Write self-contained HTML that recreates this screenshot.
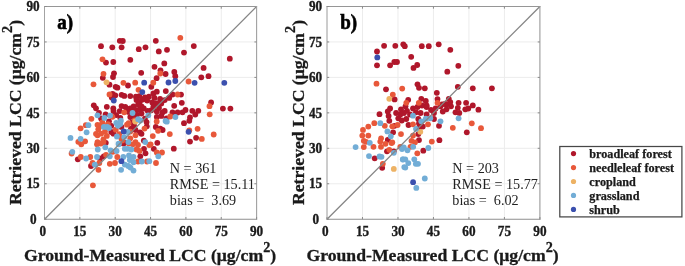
<!DOCTYPE html>
<html><head><meta charset="utf-8"><style>html,body{margin:0;padding:0;background:#fff;width:685px;height:266px;overflow:hidden}svg{display:block;will-change:transform}</style></head>
<body>
<svg width="685" height="266" viewBox="0 0 685 266">
<style>
text{font-family:"Liberation Serif",serif;fill:#1a1a1a}
.tk{font-size:13.2px;font-weight:bold;stroke:#1a1a1a;stroke-width:0.35px}
.pl{font-size:19px;font-weight:bold;fill:#000;stroke:#000;stroke-width:0.6px}
.st{font-size:14.2px;fill:#222}
.al{font-size:17.7px;font-weight:bold;stroke:#1a1a1a;stroke-width:0.3px}
.lg{font-size:12.2px;font-weight:bold;stroke:#1a1a1a;stroke-width:0.25px}
</style>
<rect width="685" height="266" fill="#fff"/>
<line x1="79.85" y1="6.5" x2="79.85" y2="219.2" stroke="#ECECEC" stroke-width="1"/>
<line x1="44.5" y1="183.75" x2="256.6" y2="183.75" stroke="#ECECEC" stroke-width="1"/>
<line x1="115.20" y1="6.5" x2="115.20" y2="219.2" stroke="#ECECEC" stroke-width="1"/>
<line x1="44.5" y1="148.30" x2="256.6" y2="148.30" stroke="#ECECEC" stroke-width="1"/>
<line x1="150.55" y1="6.5" x2="150.55" y2="219.2" stroke="#ECECEC" stroke-width="1"/>
<line x1="44.5" y1="112.85" x2="256.6" y2="112.85" stroke="#ECECEC" stroke-width="1"/>
<line x1="185.90" y1="6.5" x2="185.90" y2="219.2" stroke="#ECECEC" stroke-width="1"/>
<line x1="44.5" y1="77.40" x2="256.6" y2="77.40" stroke="#ECECEC" stroke-width="1"/>
<line x1="221.25" y1="6.5" x2="221.25" y2="219.2" stroke="#ECECEC" stroke-width="1"/>
<line x1="44.5" y1="41.95" x2="256.6" y2="41.95" stroke="#ECECEC" stroke-width="1"/>
<circle cx="101.0" cy="46.2" r="2.9" fill="#B0172B"/>
<circle cx="112.3" cy="47.3" r="2.9" fill="#B0172B"/>
<circle cx="119.8" cy="40.8" r="2.9" fill="#B0172B"/>
<circle cx="122.8" cy="41.0" r="2.9" fill="#B0172B"/>
<circle cx="121.6" cy="47.3" r="2.9" fill="#B0172B"/>
<circle cx="106.0" cy="62.6" r="2.9" fill="#B0172B"/>
<circle cx="113.3" cy="62.0" r="2.9" fill="#B0172B"/>
<circle cx="130.3" cy="59.8" r="2.9" fill="#B0172B"/>
<circle cx="138.8" cy="49.2" r="2.9" fill="#B0172B"/>
<circle cx="145.5" cy="47.3" r="2.9" fill="#B0172B"/>
<circle cx="155.8" cy="40.8" r="2.9" fill="#B0172B"/>
<circle cx="158.8" cy="51.4" r="2.9" fill="#B0172B"/>
<circle cx="167.0" cy="49.8" r="2.9" fill="#B0172B"/>
<circle cx="164.3" cy="63.4" r="2.9" fill="#B0172B"/>
<circle cx="154.5" cy="66.8" r="2.9" fill="#B0172B"/>
<circle cx="193.8" cy="46.1" r="2.9" fill="#B0172B"/>
<circle cx="184.0" cy="52.6" r="2.9" fill="#B0172B"/>
<circle cx="203.6" cy="67.9" r="2.9" fill="#B0172B"/>
<circle cx="229.8" cy="58.7" r="2.9" fill="#B0172B"/>
<circle cx="102.8" cy="77.8" r="2.9" fill="#B0172B"/>
<circle cx="114.0" cy="73.3" r="2.9" fill="#B0172B"/>
<circle cx="113.0" cy="77.0" r="2.9" fill="#B0172B"/>
<circle cx="109.5" cy="84.7" r="2.9" fill="#B0172B"/>
<circle cx="115.6" cy="86.8" r="2.9" fill="#B0172B"/>
<circle cx="117.4" cy="87.7" r="2.9" fill="#B0172B"/>
<circle cx="112.6" cy="93.8" r="2.9" fill="#B0172B"/>
<circle cx="115.3" cy="95.3" r="2.9" fill="#B0172B"/>
<circle cx="111.8" cy="97.4" r="2.9" fill="#B0172B"/>
<circle cx="121.6" cy="94.8" r="2.9" fill="#B0172B"/>
<circle cx="124.3" cy="95.9" r="2.9" fill="#B0172B"/>
<circle cx="93.8" cy="105.3" r="2.9" fill="#B0172B"/>
<circle cx="96.0" cy="108.3" r="2.9" fill="#B0172B"/>
<circle cx="106.8" cy="106.8" r="2.9" fill="#B0172B"/>
<circle cx="113.3" cy="108.3" r="2.9" fill="#B0172B"/>
<circle cx="121.6" cy="106.1" r="2.9" fill="#B0172B"/>
<circle cx="125.3" cy="106.8" r="2.9" fill="#B0172B"/>
<circle cx="141.2" cy="72.8" r="2.9" fill="#B0172B"/>
<circle cx="160.5" cy="70.3" r="2.9" fill="#B0172B"/>
<circle cx="165.6" cy="74.0" r="2.9" fill="#B0172B"/>
<circle cx="156.6" cy="78.2" r="2.9" fill="#B0172B"/>
<circle cx="128.0" cy="85.5" r="2.9" fill="#B0172B"/>
<circle cx="151.3" cy="86.8" r="2.9" fill="#B0172B"/>
<circle cx="174.3" cy="72.0" r="2.9" fill="#B0172B"/>
<circle cx="175.3" cy="76.2" r="2.9" fill="#B0172B"/>
<circle cx="201.3" cy="77.3" r="2.9" fill="#B0172B"/>
<circle cx="181.0" cy="94.6" r="2.9" fill="#B0172B"/>
<circle cx="181.8" cy="102.8" r="2.9" fill="#B0172B"/>
<circle cx="208.5" cy="76.2" r="2.9" fill="#B0172B"/>
<circle cx="211.1" cy="102.5" r="2.9" fill="#B0172B"/>
<circle cx="222.9" cy="108.6" r="2.9" fill="#B0172B"/>
<circle cx="230.4" cy="108.6" r="2.9" fill="#B0172B"/>
<circle cx="126.8" cy="109.0" r="2.9" fill="#B0172B"/>
<circle cx="99.0" cy="112.8" r="2.9" fill="#B0172B"/>
<circle cx="105.8" cy="142.8" r="2.9" fill="#B0172B"/>
<circle cx="124.6" cy="142.8" r="2.9" fill="#B0172B"/>
<circle cx="134.0" cy="125.5" r="2.9" fill="#B0172B"/>
<circle cx="146.8" cy="126.3" r="2.9" fill="#B0172B"/>
<circle cx="155.8" cy="127.0" r="2.9" fill="#B0172B"/>
<circle cx="160.3" cy="128.6" r="2.9" fill="#B0172B"/>
<circle cx="131.0" cy="128.6" r="2.9" fill="#B0172B"/>
<circle cx="135.5" cy="130.0" r="2.9" fill="#B0172B"/>
<circle cx="140.0" cy="132.3" r="2.9" fill="#B0172B"/>
<circle cx="162.6" cy="130.0" r="2.9" fill="#B0172B"/>
<circle cx="141.5" cy="133.8" r="2.9" fill="#B0172B"/>
<circle cx="143.8" cy="140.6" r="2.9" fill="#B0172B"/>
<circle cx="157.3" cy="142.8" r="2.9" fill="#B0172B"/>
<circle cx="182.5" cy="112.3" r="2.9" fill="#B0172B"/>
<circle cx="185.5" cy="110.0" r="2.9" fill="#B0172B"/>
<circle cx="192.3" cy="110.8" r="2.9" fill="#B0172B"/>
<circle cx="198.3" cy="110.8" r="2.9" fill="#B0172B"/>
<circle cx="195.3" cy="114.5" r="2.9" fill="#B0172B"/>
<circle cx="190.0" cy="117.5" r="2.9" fill="#B0172B"/>
<circle cx="189.3" cy="120.8" r="2.9" fill="#B0172B"/>
<circle cx="184.0" cy="123.2" r="2.9" fill="#B0172B"/>
<circle cx="196.1" cy="137.8" r="2.9" fill="#B0172B"/>
<circle cx="190.0" cy="141.6" r="2.9" fill="#B0172B"/>
<circle cx="77.8" cy="159.3" r="2.9" fill="#B0172B"/>
<circle cx="123.3" cy="143.5" r="2.9" fill="#B0172B"/>
<circle cx="103.8" cy="156.3" r="2.9" fill="#B0172B"/>
<circle cx="100.0" cy="158.5" r="2.9" fill="#B0172B"/>
<circle cx="91.0" cy="166.0" r="2.9" fill="#B0172B"/>
<circle cx="144.0" cy="148.8" r="2.9" fill="#B0172B"/>
<circle cx="145.5" cy="153.3" r="2.9" fill="#B0172B"/>
<circle cx="153.8" cy="148.8" r="2.9" fill="#B0172B"/>
<circle cx="140.3" cy="156.3" r="2.9" fill="#B0172B"/>
<circle cx="173.8" cy="148.7" r="2.9" fill="#B0172B"/>
<circle cx="113.5" cy="111.0" r="2.9" fill="#B0172B"/>
<circle cx="119.7" cy="111.1" r="2.9" fill="#B0172B"/>
<circle cx="105.6" cy="114.5" r="2.9" fill="#B0172B"/>
<circle cx="116.3" cy="115.1" r="2.9" fill="#B0172B"/>
<circle cx="120.3" cy="117.9" r="2.9" fill="#B0172B"/>
<circle cx="101.1" cy="118.5" r="2.9" fill="#B0172B"/>
<circle cx="109.0" cy="121.3" r="2.9" fill="#B0172B"/>
<circle cx="111.3" cy="125.8" r="2.9" fill="#B0172B"/>
<circle cx="121.4" cy="126.9" r="2.9" fill="#B0172B"/>
<circle cx="111.3" cy="132.0" r="2.9" fill="#B0172B"/>
<circle cx="113.5" cy="133.7" r="2.9" fill="#B0172B"/>
<circle cx="130.3" cy="96.1" r="2.9" fill="#B0172B"/>
<circle cx="135.9" cy="96.7" r="2.9" fill="#B0172B"/>
<circle cx="139.3" cy="96.1" r="2.9" fill="#B0172B"/>
<circle cx="144.9" cy="97.3" r="2.9" fill="#B0172B"/>
<circle cx="148.9" cy="96.7" r="2.9" fill="#B0172B"/>
<circle cx="136.5" cy="100.1" r="2.9" fill="#B0172B"/>
<circle cx="139.8" cy="101.8" r="2.9" fill="#B0172B"/>
<circle cx="142.7" cy="99.5" r="2.9" fill="#B0172B"/>
<circle cx="147.2" cy="100.6" r="2.9" fill="#B0172B"/>
<circle cx="133.6" cy="106.3" r="2.9" fill="#B0172B"/>
<circle cx="138.1" cy="104.6" r="2.9" fill="#B0172B"/>
<circle cx="141.5" cy="106.3" r="2.9" fill="#B0172B"/>
<circle cx="130.3" cy="108.5" r="2.9" fill="#B0172B"/>
<circle cx="134.8" cy="109.7" r="2.9" fill="#B0172B"/>
<circle cx="139.3" cy="109.7" r="2.9" fill="#B0172B"/>
<circle cx="143.8" cy="108.5" r="2.9" fill="#B0172B"/>
<circle cx="147.7" cy="110.8" r="2.9" fill="#B0172B"/>
<circle cx="128.6" cy="111.9" r="2.9" fill="#B0172B"/>
<circle cx="137.0" cy="114.7" r="2.9" fill="#B0172B"/>
<circle cx="141.5" cy="113.6" r="2.9" fill="#B0172B"/>
<circle cx="130.3" cy="117.0" r="2.9" fill="#B0172B"/>
<circle cx="134.0" cy="116.0" r="2.9" fill="#B0172B"/>
<circle cx="144.9" cy="118.7" r="2.9" fill="#B0172B"/>
<circle cx="146.6" cy="122.1" r="2.9" fill="#B0172B"/>
<circle cx="131.9" cy="122.6" r="2.9" fill="#B0172B"/>
<circle cx="153.4" cy="93.4" r="2.9" fill="#B0172B"/>
<circle cx="156.8" cy="91.7" r="2.9" fill="#B0172B"/>
<circle cx="165.8" cy="91.1" r="2.9" fill="#B0172B"/>
<circle cx="172.5" cy="94.5" r="2.9" fill="#B0172B"/>
<circle cx="169.2" cy="97.9" r="2.9" fill="#B0172B"/>
<circle cx="164.7" cy="100.1" r="2.9" fill="#B0172B"/>
<circle cx="154.5" cy="97.9" r="2.9" fill="#B0172B"/>
<circle cx="160.1" cy="99.0" r="2.9" fill="#B0172B"/>
<circle cx="152.3" cy="102.4" r="2.9" fill="#B0172B"/>
<circle cx="156.8" cy="103.5" r="2.9" fill="#B0172B"/>
<circle cx="161.3" cy="103.5" r="2.9" fill="#B0172B"/>
<circle cx="153.4" cy="106.9" r="2.9" fill="#B0172B"/>
<circle cx="159.0" cy="108.0" r="2.9" fill="#B0172B"/>
<circle cx="174.2" cy="105.8" r="2.9" fill="#B0172B"/>
<circle cx="151.1" cy="110.3" r="2.9" fill="#B0172B"/>
<circle cx="156.8" cy="111.4" r="2.9" fill="#B0172B"/>
<circle cx="164.7" cy="110.9" r="2.9" fill="#B0172B"/>
<circle cx="162.4" cy="112.5" r="2.9" fill="#B0172B"/>
<circle cx="172.5" cy="112.5" r="2.9" fill="#B0172B"/>
<circle cx="177.6" cy="112.5" r="2.9" fill="#B0172B"/>
<circle cx="156.8" cy="117.0" r="2.9" fill="#B0172B"/>
<circle cx="161.3" cy="115.9" r="2.9" fill="#B0172B"/>
<circle cx="166.5" cy="118.5" r="2.9" fill="#B0172B"/>
<circle cx="102.5" cy="59.3" r="2.9" fill="#E8583A"/>
<circle cx="180.3" cy="37.8" r="2.9" fill="#E8583A"/>
<circle cx="93.5" cy="84.3" r="2.9" fill="#E8583A"/>
<circle cx="103.5" cy="73.8" r="2.9" fill="#E8583A"/>
<circle cx="123.4" cy="82.8" r="2.9" fill="#E8583A"/>
<circle cx="109.5" cy="94.4" r="2.9" fill="#E8583A"/>
<circle cx="160.3" cy="73.5" r="2.9" fill="#E8583A"/>
<circle cx="135.2" cy="82.7" r="2.9" fill="#E8583A"/>
<circle cx="153.3" cy="82.7" r="2.9" fill="#E8583A"/>
<circle cx="138.5" cy="89.8" r="2.9" fill="#E8583A"/>
<circle cx="188.6" cy="81.5" r="2.9" fill="#E8583A"/>
<circle cx="209.5" cy="106.2" r="2.9" fill="#E8583A"/>
<circle cx="209.7" cy="114.3" r="2.9" fill="#E8583A"/>
<circle cx="91.4" cy="118.8" r="2.9" fill="#E8583A"/>
<circle cx="85.8" cy="125.2" r="2.9" fill="#E8583A"/>
<circle cx="80.6" cy="128.3" r="2.9" fill="#E8583A"/>
<circle cx="78.3" cy="141.8" r="2.9" fill="#E8583A"/>
<circle cx="85.1" cy="141.3" r="2.9" fill="#E8583A"/>
<circle cx="81.3" cy="144.3" r="2.9" fill="#E8583A"/>
<circle cx="97.5" cy="124.8" r="2.9" fill="#E8583A"/>
<circle cx="98.3" cy="129.3" r="2.9" fill="#E8583A"/>
<circle cx="97.5" cy="135.3" r="2.9" fill="#E8583A"/>
<circle cx="96.0" cy="133.8" r="2.9" fill="#E8583A"/>
<circle cx="97.5" cy="142.1" r="2.9" fill="#E8583A"/>
<circle cx="103.5" cy="142.1" r="2.9" fill="#E8583A"/>
<circle cx="122.3" cy="140.6" r="2.9" fill="#E8583A"/>
<circle cx="144.5" cy="128.6" r="2.9" fill="#E8583A"/>
<circle cx="130.3" cy="131.6" r="2.9" fill="#E8583A"/>
<circle cx="158.1" cy="130.8" r="2.9" fill="#E8583A"/>
<circle cx="135.5" cy="135.3" r="2.9" fill="#E8583A"/>
<circle cx="152.8" cy="136.1" r="2.9" fill="#E8583A"/>
<circle cx="130.3" cy="138.3" r="2.9" fill="#E8583A"/>
<circle cx="135.5" cy="142.1" r="2.9" fill="#E8583A"/>
<circle cx="150.6" cy="144.3" r="2.9" fill="#E8583A"/>
<circle cx="197.6" cy="128.8" r="2.9" fill="#E8583A"/>
<circle cx="189.3" cy="130.3" r="2.9" fill="#E8583A"/>
<circle cx="169.8" cy="134.1" r="2.9" fill="#E8583A"/>
<circle cx="201.8" cy="138.9" r="2.9" fill="#E8583A"/>
<circle cx="213.7" cy="134.5" r="2.9" fill="#E8583A"/>
<circle cx="71.6" cy="153.5" r="2.9" fill="#E8583A"/>
<circle cx="80.8" cy="157.0" r="2.9" fill="#E8583A"/>
<circle cx="97.0" cy="144.3" r="2.9" fill="#E8583A"/>
<circle cx="100.8" cy="143.5" r="2.9" fill="#E8583A"/>
<circle cx="112.8" cy="151.8" r="2.9" fill="#E8583A"/>
<circle cx="90.3" cy="157.0" r="2.9" fill="#E8583A"/>
<circle cx="106.0" cy="154.8" r="2.9" fill="#E8583A"/>
<circle cx="117.3" cy="157.0" r="2.9" fill="#E8583A"/>
<circle cx="92.5" cy="163.0" r="2.9" fill="#E8583A"/>
<circle cx="99.3" cy="163.0" r="2.9" fill="#E8583A"/>
<circle cx="109.8" cy="163.8" r="2.9" fill="#E8583A"/>
<circle cx="115.0" cy="163.0" r="2.9" fill="#E8583A"/>
<circle cx="98.5" cy="169.8" r="2.9" fill="#E8583A"/>
<circle cx="129.0" cy="143.5" r="2.9" fill="#E8583A"/>
<circle cx="132.8" cy="144.3" r="2.9" fill="#E8583A"/>
<circle cx="138.0" cy="145.0" r="2.9" fill="#E8583A"/>
<circle cx="149.3" cy="145.0" r="2.9" fill="#E8583A"/>
<circle cx="136.5" cy="149.5" r="2.9" fill="#E8583A"/>
<circle cx="139.5" cy="151.0" r="2.9" fill="#E8583A"/>
<circle cx="156.8" cy="152.5" r="2.9" fill="#E8583A"/>
<circle cx="162.0" cy="152.5" r="2.9" fill="#E8583A"/>
<circle cx="138.0" cy="161.5" r="2.9" fill="#E8583A"/>
<circle cx="147.0" cy="161.5" r="2.9" fill="#E8583A"/>
<circle cx="156.0" cy="163.0" r="2.9" fill="#E8583A"/>
<circle cx="92.9" cy="185.3" r="2.9" fill="#E8583A"/>
<circle cx="124.2" cy="112.3" r="2.9" fill="#E8583A"/>
<circle cx="112.4" cy="116.8" r="2.9" fill="#E8583A"/>
<circle cx="102.3" cy="122.4" r="2.9" fill="#E8583A"/>
<circle cx="127.0" cy="124.7" r="2.9" fill="#E8583A"/>
<circle cx="101.7" cy="125.8" r="2.9" fill="#E8583A"/>
<circle cx="107.9" cy="124.1" r="2.9" fill="#E8583A"/>
<circle cx="115.8" cy="129.7" r="2.9" fill="#E8583A"/>
<circle cx="105.0" cy="131.4" r="2.9" fill="#E8583A"/>
<circle cx="101.1" cy="133.7" r="2.9" fill="#E8583A"/>
<circle cx="106.8" cy="135.9" r="2.9" fill="#E8583A"/>
<circle cx="103.4" cy="139.3" r="2.9" fill="#E8583A"/>
<circle cx="119.2" cy="134.2" r="2.9" fill="#E8583A"/>
<circle cx="121.4" cy="138.7" r="2.9" fill="#E8583A"/>
<circle cx="134.8" cy="120.4" r="2.9" fill="#E8583A"/>
<circle cx="156.7" cy="121.5" r="2.9" fill="#E8583A"/>
<circle cx="128.6" cy="123.2" r="2.9" fill="#E8583A"/>
<circle cx="177.6" cy="94.5" r="2.9" fill="#E8583A"/>
<circle cx="170.3" cy="116.5" r="2.9" fill="#E8583A"/>
<circle cx="106.5" cy="82.3" r="2.9" fill="#EDB264"/>
<circle cx="135.3" cy="121.5" r="2.9" fill="#EDB264"/>
<circle cx="88.4" cy="125.2" r="2.9" fill="#72ADD6"/>
<circle cx="86.6" cy="132.3" r="2.9" fill="#72ADD6"/>
<circle cx="70.5" cy="137.9" r="2.9" fill="#72ADD6"/>
<circle cx="80.6" cy="138.8" r="2.9" fill="#72ADD6"/>
<circle cx="97.5" cy="115.3" r="2.9" fill="#72ADD6"/>
<circle cx="118.6" cy="143.6" r="2.9" fill="#72ADD6"/>
<circle cx="128.3" cy="142.1" r="2.9" fill="#72ADD6"/>
<circle cx="165.6" cy="121.0" r="2.9" fill="#72ADD6"/>
<circle cx="145.3" cy="142.1" r="2.9" fill="#72ADD6"/>
<circle cx="166.8" cy="121.7" r="2.9" fill="#72ADD6"/>
<circle cx="72.3" cy="151.8" r="2.9" fill="#72ADD6"/>
<circle cx="86.1" cy="158.5" r="2.9" fill="#72ADD6"/>
<circle cx="118.8" cy="144.3" r="2.9" fill="#72ADD6"/>
<circle cx="97.8" cy="149.5" r="2.9" fill="#72ADD6"/>
<circle cx="105.3" cy="147.3" r="2.9" fill="#72ADD6"/>
<circle cx="110.6" cy="150.3" r="2.9" fill="#72ADD6"/>
<circle cx="124.8" cy="148.8" r="2.9" fill="#72ADD6"/>
<circle cx="116.6" cy="151.0" r="2.9" fill="#72ADD6"/>
<circle cx="97.0" cy="157.0" r="2.9" fill="#72ADD6"/>
<circle cx="109.8" cy="156.3" r="2.9" fill="#72ADD6"/>
<circle cx="123.3" cy="157.0" r="2.9" fill="#72ADD6"/>
<circle cx="94.8" cy="164.6" r="2.9" fill="#72ADD6"/>
<circle cx="124.8" cy="164.6" r="2.9" fill="#72ADD6"/>
<circle cx="121.1" cy="169.8" r="2.9" fill="#72ADD6"/>
<circle cx="127.5" cy="148.8" r="2.9" fill="#72ADD6"/>
<circle cx="131.3" cy="149.5" r="2.9" fill="#72ADD6"/>
<circle cx="129.0" cy="155.5" r="2.9" fill="#72ADD6"/>
<circle cx="133.5" cy="157.0" r="2.9" fill="#72ADD6"/>
<circle cx="129.8" cy="160.0" r="2.9" fill="#72ADD6"/>
<circle cx="133.5" cy="162.3" r="2.9" fill="#72ADD6"/>
<circle cx="141.8" cy="161.5" r="2.9" fill="#72ADD6"/>
<circle cx="149.3" cy="161.2" r="2.9" fill="#72ADD6"/>
<circle cx="158.3" cy="156.3" r="2.9" fill="#72ADD6"/>
<circle cx="128.3" cy="166.0" r="2.9" fill="#72ADD6"/>
<circle cx="130.5" cy="167.6" r="2.9" fill="#72ADD6"/>
<circle cx="133.5" cy="170.6" r="2.9" fill="#72ADD6"/>
<circle cx="110.1" cy="115.6" r="2.9" fill="#72ADD6"/>
<circle cx="104.5" cy="117.9" r="2.9" fill="#72ADD6"/>
<circle cx="116.3" cy="123.0" r="2.9" fill="#72ADD6"/>
<circle cx="120.9" cy="120.7" r="2.9" fill="#72ADD6"/>
<circle cx="120.3" cy="124.1" r="2.9" fill="#72ADD6"/>
<circle cx="118.0" cy="125.8" r="2.9" fill="#72ADD6"/>
<circle cx="103.9" cy="126.9" r="2.9" fill="#72ADD6"/>
<circle cx="107.3" cy="126.9" r="2.9" fill="#72ADD6"/>
<circle cx="109.0" cy="128.0" r="2.9" fill="#72ADD6"/>
<circle cx="127.6" cy="132.0" r="2.9" fill="#72ADD6"/>
<circle cx="116.9" cy="136.5" r="2.9" fill="#72ADD6"/>
<circle cx="124.2" cy="137.1" r="2.9" fill="#72ADD6"/>
<circle cx="132.5" cy="113.0" r="2.9" fill="#72ADD6"/>
<circle cx="148.3" cy="115.3" r="2.9" fill="#72ADD6"/>
<circle cx="138.1" cy="119.2" r="2.9" fill="#72ADD6"/>
<circle cx="140.4" cy="120.4" r="2.9" fill="#72ADD6"/>
<circle cx="175.4" cy="117.0" r="2.9" fill="#72ADD6"/>
<circle cx="113.8" cy="100.5" r="2.9" fill="#3B50AE"/>
<circle cx="144.2" cy="82.7" r="2.9" fill="#3B50AE"/>
<circle cx="142.3" cy="92.1" r="2.9" fill="#3B50AE"/>
<circle cx="168.5" cy="82.5" r="2.9" fill="#3B50AE"/>
<circle cx="175.3" cy="81.0" r="2.9" fill="#3B50AE"/>
<circle cx="194.6" cy="82.8" r="2.9" fill="#3B50AE"/>
<circle cx="224.3" cy="82.8" r="2.9" fill="#3B50AE"/>
<circle cx="188.6" cy="131.8" r="2.9" fill="#3B50AE"/>
<circle cx="121.4" cy="161.2" r="2.9" fill="#3B50AE"/>
<circle cx="123.7" cy="131.4" r="2.9" fill="#3B50AE"/>
<line x1="44.5" y1="219.2" x2="256.6" y2="6.5" stroke="#858585" stroke-width="1.25"/>
<line x1="44.0" y1="6.5" x2="257.1" y2="6.5" stroke="#969696" stroke-width="1"/>
<line x1="44.0" y1="219.2" x2="257.1" y2="219.2" stroke="#8E8E8E" stroke-width="1.1"/>
<line x1="44.5" y1="6.0" x2="44.5" y2="219.7" stroke="#A3A3A3" stroke-width="1"/>
<line x1="256.6" y1="6.0" x2="256.6" y2="219.7" stroke="#A0A0A0" stroke-width="1.1"/>
<line x1="44.50" y1="219.2" x2="44.50" y2="217.0" stroke="#8A8A8A" stroke-width="1"/>
<line x1="44.5" y1="219.20" x2="46.7" y2="219.20" stroke="#8A8A8A" stroke-width="1"/>
<text transform="translate(42.80,236) scale(1,1.07)" class="tk" text-anchor="middle">0</text>
<text transform="translate(36.70,224.40) scale(1,1.07)" class="tk" text-anchor="end">0</text>
<line x1="79.85" y1="219.2" x2="79.85" y2="217.0" stroke="#8A8A8A" stroke-width="1"/>
<line x1="44.5" y1="183.75" x2="46.7" y2="183.75" stroke="#8A8A8A" stroke-width="1"/>
<line x1="79.85" y1="6.5" x2="79.85" y2="8.7" stroke="#8A8A8A" stroke-width="1"/>
<line x1="256.6" y1="183.75" x2="254.40000000000003" y2="183.75" stroke="#8A8A8A" stroke-width="1"/>
<text transform="translate(79.85,236) scale(1,1.07)" class="tk" text-anchor="middle">15</text>
<text transform="translate(39.70,188.45) scale(1,1.07)" class="tk" text-anchor="end">15</text>
<line x1="115.20" y1="219.2" x2="115.20" y2="217.0" stroke="#8A8A8A" stroke-width="1"/>
<line x1="44.5" y1="148.30" x2="46.7" y2="148.30" stroke="#8A8A8A" stroke-width="1"/>
<line x1="115.20" y1="6.5" x2="115.20" y2="8.7" stroke="#8A8A8A" stroke-width="1"/>
<line x1="256.6" y1="148.30" x2="254.40000000000003" y2="148.30" stroke="#8A8A8A" stroke-width="1"/>
<text transform="translate(115.20,236) scale(1,1.07)" class="tk" text-anchor="middle">30</text>
<text transform="translate(39.70,153.00) scale(1,1.07)" class="tk" text-anchor="end">30</text>
<line x1="150.55" y1="219.2" x2="150.55" y2="217.0" stroke="#8A8A8A" stroke-width="1"/>
<line x1="44.5" y1="112.85" x2="46.7" y2="112.85" stroke="#8A8A8A" stroke-width="1"/>
<line x1="150.55" y1="6.5" x2="150.55" y2="8.7" stroke="#8A8A8A" stroke-width="1"/>
<line x1="256.6" y1="112.85" x2="254.40000000000003" y2="112.85" stroke="#8A8A8A" stroke-width="1"/>
<text transform="translate(150.55,236) scale(1,1.07)" class="tk" text-anchor="middle">45</text>
<text transform="translate(39.70,117.55) scale(1,1.07)" class="tk" text-anchor="end">45</text>
<line x1="185.90" y1="219.2" x2="185.90" y2="217.0" stroke="#8A8A8A" stroke-width="1"/>
<line x1="44.5" y1="77.40" x2="46.7" y2="77.40" stroke="#8A8A8A" stroke-width="1"/>
<line x1="185.90" y1="6.5" x2="185.90" y2="8.7" stroke="#8A8A8A" stroke-width="1"/>
<line x1="256.6" y1="77.40" x2="254.40000000000003" y2="77.40" stroke="#8A8A8A" stroke-width="1"/>
<text transform="translate(185.90,236) scale(1,1.07)" class="tk" text-anchor="middle">60</text>
<text transform="translate(39.70,82.10) scale(1,1.07)" class="tk" text-anchor="end">60</text>
<line x1="221.25" y1="219.2" x2="221.25" y2="217.0" stroke="#8A8A8A" stroke-width="1"/>
<line x1="44.5" y1="41.95" x2="46.7" y2="41.95" stroke="#8A8A8A" stroke-width="1"/>
<line x1="221.25" y1="6.5" x2="221.25" y2="8.7" stroke="#8A8A8A" stroke-width="1"/>
<line x1="256.6" y1="41.95" x2="254.40000000000003" y2="41.95" stroke="#8A8A8A" stroke-width="1"/>
<text transform="translate(221.25,236) scale(1,1.07)" class="tk" text-anchor="middle">75</text>
<text transform="translate(39.70,46.65) scale(1,1.07)" class="tk" text-anchor="end">75</text>
<line x1="256.60" y1="219.2" x2="256.60" y2="217.0" stroke="#8A8A8A" stroke-width="1"/>
<line x1="44.5" y1="6.50" x2="46.7" y2="6.50" stroke="#8A8A8A" stroke-width="1"/>
<text transform="translate(256.60,236) scale(1,1.07)" class="tk" text-anchor="middle">90</text>
<text transform="translate(39.70,11.20) scale(1,1.07)" class="tk" text-anchor="end">90</text>
<text transform="translate(57.30,29) scale(1,1.13)" class="pl">a)</text>
<text x="169.8" y="172.6" class="st" xml:space="preserve">N = 361</text>
<text x="169.8" y="188.8" class="st" xml:space="preserve">RMSE = 15.11</text>
<text x="169.8" y="205.0" class="st" xml:space="preserve">bias =  3.69</text>
<text x="23.9" y="261.3" class="al">Ground-Measured LCC (μg/cm<tspan dy="-9" font-size="14.2">2</tspan><tspan dy="9">)</tspan></text>
<text transform="translate(21,205) rotate(-90)" class="al">Retrieved LCC (μg/cm<tspan dy="-9" font-size="14.2">2</tspan><tspan dy="9">)</tspan></text>
<line x1="362.48" y1="6.5" x2="362.48" y2="219.2" stroke="#ECECEC" stroke-width="1"/>
<line x1="327.0" y1="183.75" x2="539.9" y2="183.75" stroke="#ECECEC" stroke-width="1"/>
<line x1="397.97" y1="6.5" x2="397.97" y2="219.2" stroke="#ECECEC" stroke-width="1"/>
<line x1="327.0" y1="148.30" x2="539.9" y2="148.30" stroke="#ECECEC" stroke-width="1"/>
<line x1="433.45" y1="6.5" x2="433.45" y2="219.2" stroke="#ECECEC" stroke-width="1"/>
<line x1="327.0" y1="112.85" x2="539.9" y2="112.85" stroke="#ECECEC" stroke-width="1"/>
<line x1="468.93" y1="6.5" x2="468.93" y2="219.2" stroke="#ECECEC" stroke-width="1"/>
<line x1="327.0" y1="77.40" x2="539.9" y2="77.40" stroke="#ECECEC" stroke-width="1"/>
<line x1="504.42" y1="6.5" x2="504.42" y2="219.2" stroke="#ECECEC" stroke-width="1"/>
<line x1="327.0" y1="41.95" x2="539.9" y2="41.95" stroke="#ECECEC" stroke-width="1"/>
<circle cx="384.1" cy="45.8" r="2.9" fill="#B0172B"/>
<circle cx="395.3" cy="45.8" r="2.9" fill="#B0172B"/>
<circle cx="377.0" cy="51.5" r="2.9" fill="#B0172B"/>
<circle cx="377.0" cy="65.3" r="2.9" fill="#B0172B"/>
<circle cx="390.1" cy="65.3" r="2.9" fill="#B0172B"/>
<circle cx="394.3" cy="62.0" r="2.9" fill="#B0172B"/>
<circle cx="397.0" cy="62.0" r="2.9" fill="#B0172B"/>
<circle cx="403.3" cy="44.3" r="2.9" fill="#B0172B"/>
<circle cx="404.8" cy="46.2" r="2.9" fill="#B0172B"/>
<circle cx="421.8" cy="46.2" r="2.9" fill="#B0172B"/>
<circle cx="428.8" cy="46.2" r="2.9" fill="#B0172B"/>
<circle cx="411.2" cy="56.8" r="2.9" fill="#B0172B"/>
<circle cx="417.2" cy="65.0" r="2.9" fill="#B0172B"/>
<circle cx="413.5" cy="67.9" r="2.9" fill="#B0172B"/>
<circle cx="438.7" cy="44.3" r="2.9" fill="#B0172B"/>
<circle cx="450.3" cy="49.8" r="2.9" fill="#B0172B"/>
<circle cx="458.3" cy="65.8" r="2.9" fill="#B0172B"/>
<circle cx="491.9" cy="88.3" r="2.9" fill="#B0172B"/>
<circle cx="447.3" cy="71.7" r="2.9" fill="#B0172B"/>
<circle cx="457.8" cy="86.8" r="2.9" fill="#B0172B"/>
<circle cx="472.8" cy="88.3" r="2.9" fill="#B0172B"/>
<circle cx="436.8" cy="92.8" r="2.9" fill="#B0172B"/>
<circle cx="437.5" cy="99.1" r="2.9" fill="#B0172B"/>
<circle cx="448.8" cy="98.8" r="2.9" fill="#B0172B"/>
<circle cx="458.6" cy="102.8" r="2.9" fill="#B0172B"/>
<circle cx="466.1" cy="102.8" r="2.9" fill="#B0172B"/>
<circle cx="472.8" cy="105.4" r="2.9" fill="#B0172B"/>
<circle cx="442.0" cy="104.3" r="2.9" fill="#B0172B"/>
<circle cx="446.5" cy="104.3" r="2.9" fill="#B0172B"/>
<circle cx="450.3" cy="102.1" r="2.9" fill="#B0172B"/>
<circle cx="417.5" cy="84.3" r="2.9" fill="#B0172B"/>
<circle cx="419.0" cy="87.8" r="2.9" fill="#B0172B"/>
<circle cx="424.8" cy="88.3" r="2.9" fill="#B0172B"/>
<circle cx="408.2" cy="99.8" r="2.9" fill="#B0172B"/>
<circle cx="421.3" cy="98.8" r="2.9" fill="#B0172B"/>
<circle cx="425.8" cy="100.9" r="2.9" fill="#B0172B"/>
<circle cx="426.6" cy="105.4" r="2.9" fill="#B0172B"/>
<circle cx="386.0" cy="89.3" r="2.9" fill="#B0172B"/>
<circle cx="394.6" cy="99.4" r="2.9" fill="#B0172B"/>
<circle cx="390.1" cy="108.5" r="2.9" fill="#B0172B"/>
<circle cx="387.8" cy="111.5" r="2.9" fill="#B0172B"/>
<circle cx="379.5" cy="114.2" r="2.9" fill="#B0172B"/>
<circle cx="388.6" cy="116.0" r="2.9" fill="#B0172B"/>
<circle cx="396.1" cy="113.0" r="2.9" fill="#B0172B"/>
<circle cx="398.3" cy="118.3" r="2.9" fill="#B0172B"/>
<circle cx="389.3" cy="120.8" r="2.9" fill="#B0172B"/>
<circle cx="394.6" cy="125.8" r="2.9" fill="#B0172B"/>
<circle cx="393.1" cy="132.3" r="2.9" fill="#B0172B"/>
<circle cx="387.8" cy="139.8" r="2.9" fill="#B0172B"/>
<circle cx="401.0" cy="109.3" r="2.9" fill="#B0172B"/>
<circle cx="405.5" cy="106.3" r="2.9" fill="#B0172B"/>
<circle cx="407.0" cy="110.8" r="2.9" fill="#B0172B"/>
<circle cx="413.0" cy="108.5" r="2.9" fill="#B0172B"/>
<circle cx="417.5" cy="107.0" r="2.9" fill="#B0172B"/>
<circle cx="422.0" cy="105.5" r="2.9" fill="#B0172B"/>
<circle cx="426.6" cy="107.0" r="2.9" fill="#B0172B"/>
<circle cx="431.0" cy="110.0" r="2.9" fill="#B0172B"/>
<circle cx="435.6" cy="108.5" r="2.9" fill="#B0172B"/>
<circle cx="400.3" cy="114.5" r="2.9" fill="#B0172B"/>
<circle cx="404.0" cy="113.0" r="2.9" fill="#B0172B"/>
<circle cx="410.0" cy="114.5" r="2.9" fill="#B0172B"/>
<circle cx="416.0" cy="112.3" r="2.9" fill="#B0172B"/>
<circle cx="420.6" cy="113.0" r="2.9" fill="#B0172B"/>
<circle cx="426.6" cy="114.5" r="2.9" fill="#B0172B"/>
<circle cx="434.0" cy="113.0" r="2.9" fill="#B0172B"/>
<circle cx="401.8" cy="120.5" r="2.9" fill="#B0172B"/>
<circle cx="406.3" cy="119.0" r="2.9" fill="#B0172B"/>
<circle cx="418.3" cy="119.0" r="2.9" fill="#B0172B"/>
<circle cx="434.0" cy="119.0" r="2.9" fill="#B0172B"/>
<circle cx="408.5" cy="125.0" r="2.9" fill="#B0172B"/>
<circle cx="419.0" cy="123.5" r="2.9" fill="#B0172B"/>
<circle cx="422.8" cy="126.6" r="2.9" fill="#B0172B"/>
<circle cx="419.0" cy="128.0" r="2.9" fill="#B0172B"/>
<circle cx="418.3" cy="134.1" r="2.9" fill="#B0172B"/>
<circle cx="419.0" cy="140.1" r="2.9" fill="#B0172B"/>
<circle cx="440.5" cy="106.3" r="2.9" fill="#B0172B"/>
<circle cx="445.0" cy="104.0" r="2.9" fill="#B0172B"/>
<circle cx="451.0" cy="106.3" r="2.9" fill="#B0172B"/>
<circle cx="446.5" cy="109.3" r="2.9" fill="#B0172B"/>
<circle cx="442.8" cy="111.5" r="2.9" fill="#B0172B"/>
<circle cx="457.8" cy="107.8" r="2.9" fill="#B0172B"/>
<circle cx="455.5" cy="112.3" r="2.9" fill="#B0172B"/>
<circle cx="459.3" cy="113.0" r="2.9" fill="#B0172B"/>
<circle cx="465.3" cy="109.3" r="2.9" fill="#B0172B"/>
<circle cx="468.3" cy="108.5" r="2.9" fill="#B0172B"/>
<circle cx="439.0" cy="125.8" r="2.9" fill="#B0172B"/>
<circle cx="466.8" cy="132.3" r="2.9" fill="#B0172B"/>
<circle cx="478.4" cy="109.7" r="2.9" fill="#B0172B"/>
<circle cx="387.0" cy="151.3" r="2.9" fill="#B0172B"/>
<circle cx="393.8" cy="151.3" r="2.9" fill="#B0172B"/>
<circle cx="374.7" cy="158.3" r="2.9" fill="#B0172B"/>
<circle cx="382.2" cy="167.8" r="2.9" fill="#B0172B"/>
<circle cx="439.4" cy="140.2" r="2.9" fill="#B0172B"/>
<circle cx="423.3" cy="150.7" r="2.9" fill="#B0172B"/>
<circle cx="437.5" cy="102.8" r="2.9" fill="#E8583A"/>
<circle cx="402.2" cy="88.6" r="2.9" fill="#E8583A"/>
<circle cx="406.3" cy="102.8" r="2.9" fill="#E8583A"/>
<circle cx="418.8" cy="102.8" r="2.9" fill="#E8583A"/>
<circle cx="376.5" cy="83.7" r="2.9" fill="#E8583A"/>
<circle cx="392.8" cy="94.6" r="2.9" fill="#E8583A"/>
<circle cx="374.3" cy="123.2" r="2.9" fill="#E8583A"/>
<circle cx="368.3" cy="126.6" r="2.9" fill="#E8583A"/>
<circle cx="384.8" cy="125.8" r="2.9" fill="#E8583A"/>
<circle cx="392.3" cy="126.3" r="2.9" fill="#E8583A"/>
<circle cx="397.6" cy="125.0" r="2.9" fill="#E8583A"/>
<circle cx="363.0" cy="129.9" r="2.9" fill="#E8583A"/>
<circle cx="362.3" cy="135.6" r="2.9" fill="#E8583A"/>
<circle cx="368.3" cy="135.6" r="2.9" fill="#E8583A"/>
<circle cx="381.1" cy="138.3" r="2.9" fill="#E8583A"/>
<circle cx="363.8" cy="140.8" r="2.9" fill="#E8583A"/>
<circle cx="380.3" cy="141.6" r="2.9" fill="#E8583A"/>
<circle cx="392.3" cy="142.3" r="2.9" fill="#E8583A"/>
<circle cx="413.0" cy="124.3" r="2.9" fill="#E8583A"/>
<circle cx="428.0" cy="124.3" r="2.9" fill="#E8583A"/>
<circle cx="401.0" cy="134.1" r="2.9" fill="#E8583A"/>
<circle cx="413.0" cy="135.6" r="2.9" fill="#E8583A"/>
<circle cx="411.5" cy="140.8" r="2.9" fill="#E8583A"/>
<circle cx="431.8" cy="141.6" r="2.9" fill="#E8583A"/>
<circle cx="452.8" cy="127.8" r="2.9" fill="#E8583A"/>
<circle cx="471.8" cy="123.3" r="2.9" fill="#E8583A"/>
<circle cx="481.0" cy="128.2" r="2.9" fill="#E8583A"/>
<circle cx="366.0" cy="141.8" r="2.9" fill="#E8583A"/>
<circle cx="363.8" cy="147.1" r="2.9" fill="#E8583A"/>
<circle cx="373.5" cy="146.8" r="2.9" fill="#E8583A"/>
<circle cx="381.0" cy="146.8" r="2.9" fill="#E8583A"/>
<circle cx="385.5" cy="143.8" r="2.9" fill="#E8583A"/>
<circle cx="391.6" cy="143.0" r="2.9" fill="#E8583A"/>
<circle cx="389.3" cy="149.8" r="2.9" fill="#E8583A"/>
<circle cx="400.3" cy="146.8" r="2.9" fill="#E8583A"/>
<circle cx="382.8" cy="163.8" r="2.9" fill="#E8583A"/>
<circle cx="415.0" cy="142.3" r="2.9" fill="#E8583A"/>
<circle cx="410.5" cy="146.8" r="2.9" fill="#E8583A"/>
<circle cx="417.3" cy="153.3" r="2.9" fill="#E8583A"/>
<circle cx="389.3" cy="98.8" r="2.9" fill="#EDB264"/>
<circle cx="420.3" cy="131.8" r="2.9" fill="#EDB264"/>
<circle cx="393.8" cy="168.9" r="2.9" fill="#EDB264"/>
<circle cx="380.3" cy="123.2" r="2.9" fill="#72ADD6"/>
<circle cx="387.4" cy="131.4" r="2.9" fill="#72ADD6"/>
<circle cx="390.8" cy="136.3" r="2.9" fill="#72ADD6"/>
<circle cx="369.8" cy="142.8" r="2.9" fill="#72ADD6"/>
<circle cx="413.0" cy="115.7" r="2.9" fill="#72ADD6"/>
<circle cx="425.8" cy="118.7" r="2.9" fill="#72ADD6"/>
<circle cx="430.3" cy="118.3" r="2.9" fill="#72ADD6"/>
<circle cx="421.3" cy="121.3" r="2.9" fill="#72ADD6"/>
<circle cx="416.0" cy="128.8" r="2.9" fill="#72ADD6"/>
<circle cx="458.6" cy="118.3" r="2.9" fill="#72ADD6"/>
<circle cx="440.5" cy="121.3" r="2.9" fill="#72ADD6"/>
<circle cx="355.6" cy="147.1" r="2.9" fill="#72ADD6"/>
<circle cx="369.0" cy="156.1" r="2.9" fill="#72ADD6"/>
<circle cx="393.8" cy="152.8" r="2.9" fill="#72ADD6"/>
<circle cx="402.0" cy="149.0" r="2.9" fill="#72ADD6"/>
<circle cx="379.5" cy="156.5" r="2.9" fill="#72ADD6"/>
<circle cx="381.5" cy="156.8" r="2.9" fill="#72ADD6"/>
<circle cx="402.8" cy="159.5" r="2.9" fill="#72ADD6"/>
<circle cx="404.3" cy="167.1" r="2.9" fill="#72ADD6"/>
<circle cx="403.8" cy="147.3" r="2.9" fill="#72ADD6"/>
<circle cx="413.2" cy="146.8" r="2.9" fill="#72ADD6"/>
<circle cx="407.5" cy="150.3" r="2.9" fill="#72ADD6"/>
<circle cx="428.3" cy="148.0" r="2.9" fill="#72ADD6"/>
<circle cx="403.0" cy="159.3" r="2.9" fill="#72ADD6"/>
<circle cx="405.3" cy="159.3" r="2.9" fill="#72ADD6"/>
<circle cx="408.3" cy="163.1" r="2.9" fill="#72ADD6"/>
<circle cx="414.3" cy="159.3" r="2.9" fill="#72ADD6"/>
<circle cx="415.8" cy="163.8" r="2.9" fill="#72ADD6"/>
<circle cx="405.3" cy="167.6" r="2.9" fill="#72ADD6"/>
<circle cx="418.0" cy="163.8" r="2.9" fill="#72ADD6"/>
<circle cx="424.8" cy="178.5" r="2.9" fill="#72ADD6"/>
<circle cx="416.3" cy="187.9" r="2.9" fill="#72ADD6"/>
<circle cx="377.3" cy="57.4" r="2.9" fill="#3B50AE"/>
<circle cx="413.1" cy="182.2" r="2.9" fill="#3B50AE"/>
<line x1="327.0" y1="219.2" x2="539.9" y2="6.5" stroke="#858585" stroke-width="1.25"/>
<line x1="326.5" y1="6.5" x2="540.4" y2="6.5" stroke="#969696" stroke-width="1"/>
<line x1="326.5" y1="219.2" x2="540.4" y2="219.2" stroke="#8E8E8E" stroke-width="1.1"/>
<line x1="327.0" y1="6.0" x2="327.0" y2="219.7" stroke="#9A9A9A" stroke-width="1"/>
<line x1="539.9" y1="6.0" x2="539.9" y2="219.7" stroke="#9A9A9A" stroke-width="1.1"/>
<line x1="327.00" y1="219.2" x2="327.00" y2="217.0" stroke="#8A8A8A" stroke-width="1"/>
<line x1="327.0" y1="219.20" x2="329.2" y2="219.20" stroke="#8A8A8A" stroke-width="1"/>
<text transform="translate(325.30,236) scale(1,1.07)" class="tk" text-anchor="middle">0</text>
<text transform="translate(319.20,224.40) scale(1,1.07)" class="tk" text-anchor="end">0</text>
<line x1="362.48" y1="219.2" x2="362.48" y2="217.0" stroke="#8A8A8A" stroke-width="1"/>
<line x1="327.0" y1="183.75" x2="329.2" y2="183.75" stroke="#8A8A8A" stroke-width="1"/>
<line x1="362.48" y1="6.5" x2="362.48" y2="8.7" stroke="#8A8A8A" stroke-width="1"/>
<line x1="539.9" y1="183.75" x2="537.6999999999999" y2="183.75" stroke="#8A8A8A" stroke-width="1"/>
<text transform="translate(362.48,236) scale(1,1.07)" class="tk" text-anchor="middle">15</text>
<text transform="translate(322.20,188.45) scale(1,1.07)" class="tk" text-anchor="end">15</text>
<line x1="397.97" y1="219.2" x2="397.97" y2="217.0" stroke="#8A8A8A" stroke-width="1"/>
<line x1="327.0" y1="148.30" x2="329.2" y2="148.30" stroke="#8A8A8A" stroke-width="1"/>
<line x1="397.97" y1="6.5" x2="397.97" y2="8.7" stroke="#8A8A8A" stroke-width="1"/>
<line x1="539.9" y1="148.30" x2="537.6999999999999" y2="148.30" stroke="#8A8A8A" stroke-width="1"/>
<text transform="translate(397.97,236) scale(1,1.07)" class="tk" text-anchor="middle">30</text>
<text transform="translate(322.20,153.00) scale(1,1.07)" class="tk" text-anchor="end">30</text>
<line x1="433.45" y1="219.2" x2="433.45" y2="217.0" stroke="#8A8A8A" stroke-width="1"/>
<line x1="327.0" y1="112.85" x2="329.2" y2="112.85" stroke="#8A8A8A" stroke-width="1"/>
<line x1="433.45" y1="6.5" x2="433.45" y2="8.7" stroke="#8A8A8A" stroke-width="1"/>
<line x1="539.9" y1="112.85" x2="537.6999999999999" y2="112.85" stroke="#8A8A8A" stroke-width="1"/>
<text transform="translate(433.45,236) scale(1,1.07)" class="tk" text-anchor="middle">45</text>
<text transform="translate(322.20,117.55) scale(1,1.07)" class="tk" text-anchor="end">45</text>
<line x1="468.93" y1="219.2" x2="468.93" y2="217.0" stroke="#8A8A8A" stroke-width="1"/>
<line x1="327.0" y1="77.40" x2="329.2" y2="77.40" stroke="#8A8A8A" stroke-width="1"/>
<line x1="468.93" y1="6.5" x2="468.93" y2="8.7" stroke="#8A8A8A" stroke-width="1"/>
<line x1="539.9" y1="77.40" x2="537.6999999999999" y2="77.40" stroke="#8A8A8A" stroke-width="1"/>
<text transform="translate(468.93,236) scale(1,1.07)" class="tk" text-anchor="middle">60</text>
<text transform="translate(322.20,82.10) scale(1,1.07)" class="tk" text-anchor="end">60</text>
<line x1="504.42" y1="219.2" x2="504.42" y2="217.0" stroke="#8A8A8A" stroke-width="1"/>
<line x1="327.0" y1="41.95" x2="329.2" y2="41.95" stroke="#8A8A8A" stroke-width="1"/>
<line x1="504.42" y1="6.5" x2="504.42" y2="8.7" stroke="#8A8A8A" stroke-width="1"/>
<line x1="539.9" y1="41.95" x2="537.6999999999999" y2="41.95" stroke="#8A8A8A" stroke-width="1"/>
<text transform="translate(504.42,236) scale(1,1.07)" class="tk" text-anchor="middle">75</text>
<text transform="translate(322.20,46.65) scale(1,1.07)" class="tk" text-anchor="end">75</text>
<line x1="539.90" y1="219.2" x2="539.90" y2="217.0" stroke="#8A8A8A" stroke-width="1"/>
<line x1="327.0" y1="6.50" x2="329.2" y2="6.50" stroke="#8A8A8A" stroke-width="1"/>
<text transform="translate(539.90,236) scale(1,1.07)" class="tk" text-anchor="middle">90</text>
<text transform="translate(322.20,11.20) scale(1,1.07)" class="tk" text-anchor="end">90</text>
<text transform="translate(340.30,29) scale(1,1.13)" class="pl">b)</text>
<text x="452.3" y="172.6" class="st" xml:space="preserve">N = 203</text>
<text x="452.3" y="188.8" class="st" xml:space="preserve">RMSE = 15.77</text>
<text x="452.3" y="205.0" class="st" xml:space="preserve">bias =  6.02</text>
<text x="306.4" y="261.3" class="al">Ground-Measured LCC (μg/cm<tspan dy="-9" font-size="14.2">2</tspan><tspan dy="9">)</tspan></text>
<text transform="translate(303.5,205) rotate(-90)" class="al">Retrieved LCC (μg/cm<tspan dy="-9" font-size="14.2">2</tspan><tspan dy="9">)</tspan></text>
<rect x="559.8" y="146.5" width="122.10000000000002" height="70.4" fill="#fff" stroke="#474747" stroke-width="1.25"/>
<circle cx="573.5" cy="153.60" r="2.6" fill="#B0172B"/>
<text x="589.3" y="157.90" class="lg">broadleaf forest</text>
<circle cx="573.5" cy="167.55" r="2.6" fill="#E8583A"/>
<text x="589.3" y="171.85" class="lg">needleleaf forest</text>
<circle cx="573.5" cy="181.50" r="2.6" fill="#EDB264"/>
<text x="589.3" y="185.80" class="lg">cropland</text>
<circle cx="573.5" cy="195.45" r="2.6" fill="#72ADD6"/>
<text x="589.3" y="199.75" class="lg">grassland</text>
<circle cx="573.5" cy="209.40" r="2.6" fill="#3B50AE"/>
<text x="589.3" y="213.70" class="lg">shrub</text>
</svg>
</body></html>
